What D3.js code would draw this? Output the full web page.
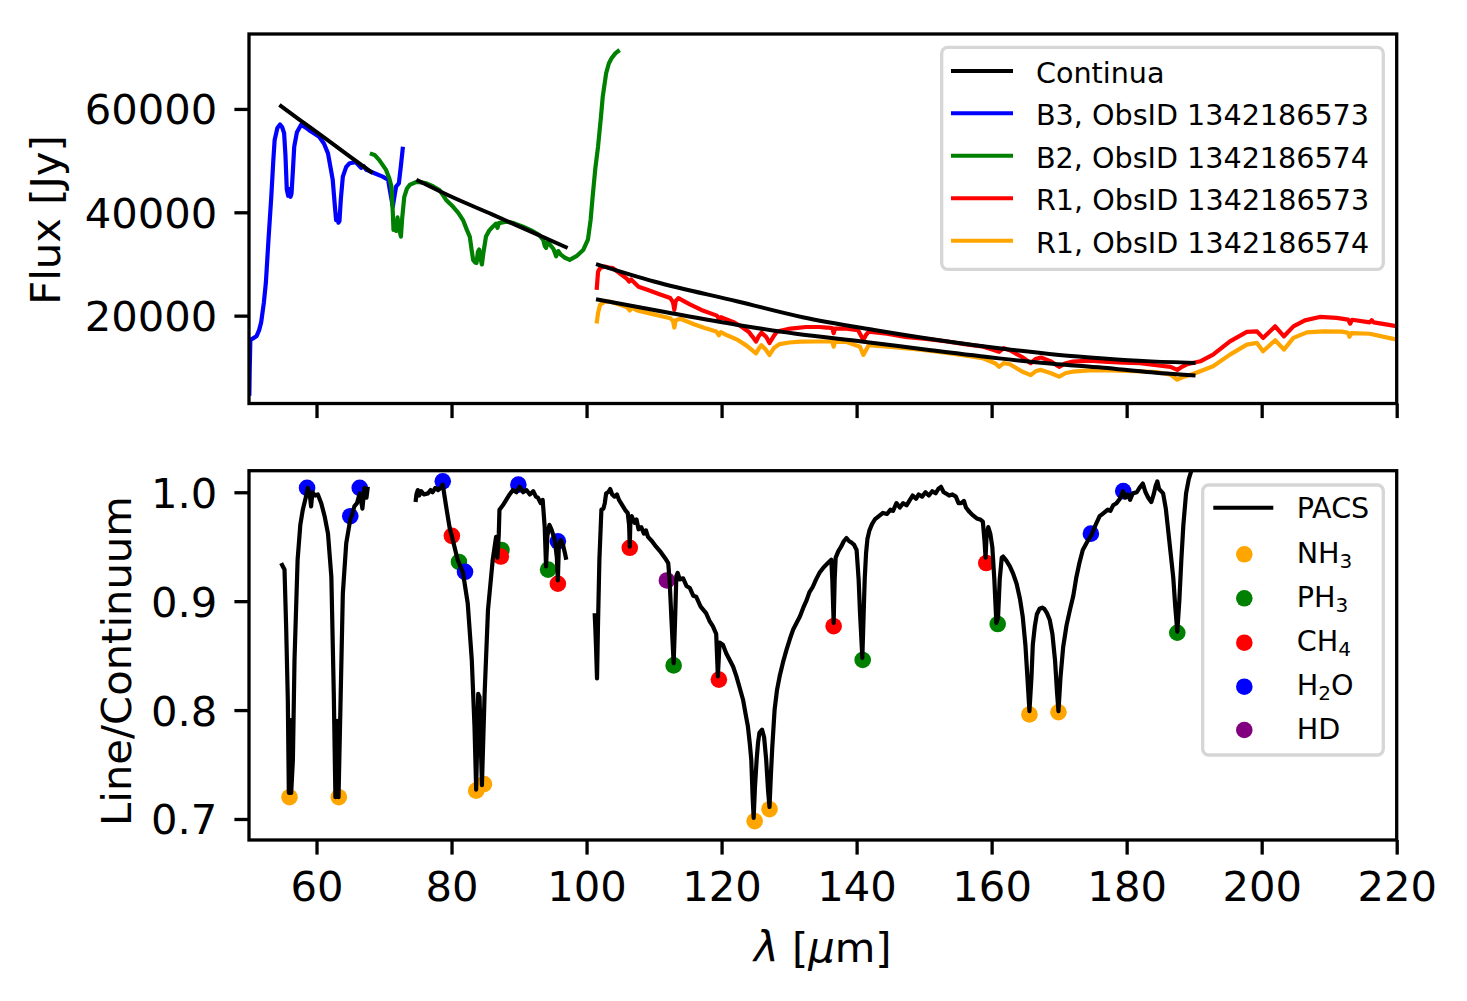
<!DOCTYPE html>
<html><head><meta charset="utf-8">
<script src="https://cdn.jsdelivr.net/npm/d3@7"></script>
<style>
body{margin:0;background:#fff}
svg{display:block}
text{font-family:"DejaVu Sans",sans-serif;fill:#000}
</style>
</head><body>
<svg id="chart" width="1467" height="1001"></svg>
<script>
// ---------------- DATA ----------------
const xTicks = [60, 80, 100, 120, 140, 160, 180, 200, 220];
const fluxTicks = [20000, 40000, 60000];
const ratioTicks = [0.7, 0.8, 0.9, 1.0];

const topLegendLabels = ["Continua", "B3, ObsID 1342186573", "B2, ObsID 1342186574", "R1, ObsID 1342186573", "R1, ObsID 1342186574"];
const topLegendColors = ["#000000", "#0000ff", "#008000", "#ff0000", "#ffa500"];

// B3 band, ObsID 1342186573  [wavelength um, flux Jy]
const b3Spec = [[50.05,4500],[50.1,9000],[50.2,15300],[50.6,15600],[51.1,16000],[51.5,17200],[51.8,18700],[52.2,22500],[52.5,26400],[52.9,35000],[53.3,43000],[53.6,50000],[53.8,54000],[54.2,56300],[54.6,57000],[54.9,56500],[55.2,55300],[55.4,51000],[55.6,44400],[55.8,43200],[56.0,44500],[56.15,43000],[56.3,43600],[56.5,48000],[56.7,52700],[57.1,55500],[57.7,56900],[58.3,56500],[58.9,55900],[59.6,55300],[60.4,54600],[61.1,53300],[61.7,51400],[62.1,48500],[62.4,46300],[62.7,41500],[62.9,38500],[63.1,39500],[63.25,38000],[63.4,38300],[63.6,42500],[63.9,46900],[64.4,48800],[64.9,49500],[65.8,49700],[66.6,48600],[67.0,48900],[67.4,48200],[68.5,47600],[69.8,46900],[70.6,46300],[70.9,44000],[71.3,41100],[71.6,43500],[71.8,45000],[72.2,45600],[72.5,49000],[72.8,52700]];

// B2 band, ObsID 1342186574
const b2Spec = [[67.9,51400],[68.6,51100],[69.3,50100],[70.3,48200],[70.8,46500],[71.1,45000],[71.3,40000],[71.4,36600],[71.6,37500],[71.8,36400],[72.0,39000],[72.2,37000],[72.5,35300],[72.7,39000],[73.0,43000],[73.4,44600],[73.8,45300],[74.8,45900],[75.5,45800],[76.3,45600],[77.3,45000],[78.2,44300],[78.8,43200],[79.2,42400],[80.2,41100],[81.0,39900],[81.7,38500],[82.3,36500],[82.7,35300],[83.0,32500],[83.2,30800],[83.5,30300],[83.7,30200],[83.9,32300],[84.1,32800],[84.3,31000],[84.5,29900],[84.7,32000],[85.1,35300],[85.6,36500],[86.1,37200],[86.6,37800],[86.8,37000],[87.0,37900],[88.1,38200],[89.2,37900],[90.6,37200],[91.8,36500],[93.0,35600],[93.6,34600],[93.8,33500],[94.0,33100],[94.2,34200],[94.6,33700],[95.1,32900],[95.5,31500],[95.8,32500],[96.2,31800],[96.8,31200],[97.5,30800],[98.5,31500],[99.5,32700],[100.2,34700],[100.6,38500],[100.9,43000],[101.3,48500],[101.7,52700],[102.1,58000],[102.4,62400],[102.9,66900],[103.3,68800],[103.7,69800],[104.3,70800],[104.9,71400]];

// R1 band, ObsID 1342186573
const r1aSpec = [[101.5,25000],[101.7,28500],[102.0,29200],[102.7,29500],[103.3,29300],[103.9,29200],[105.0,28100],[106.0,27100],[106.3,26600],[106.6,27000],[107.7,25600],[109.0,25000],[110.7,24200],[112.4,23400],[112.8,22600],[113.0,21100],[113.2,22800],[113.6,23400],[115.3,22200],[117.0,21100],[119.3,20000],[119.6,19400],[119.9,19700],[121.7,18800],[122.8,18000],[124.0,16900],[124.6,15900],[125.1,15000],[125.5,16000],[125.9,16700],[126.6,15900],[127.1,14700],[127.7,16000],[128.2,16900],[130.2,17500],[132.5,17800],[134.5,17800],[135.6,17700],[136.4,17600],[136.6,16600],[136.8,17500],[138.5,17500],[140.2,17200],[140.7,16000],[141.0,15300],[141.4,16300],[141.8,16900],[144.5,16500],[147.2,15900],[150.3,15500],[153.4,15000],[156.0,14500],[158.8,14000],[160.2,13400],[161.1,13000],[161.8,13700],[162.7,13300],[164.5,12000],[165.8,10800],[166.5,11600],[167.3,11900],[168.7,11200],[170.0,10100],[171.0,10800],[172.0,11100],[174.5,11300],[176.6,11100],[179.5,10900],[182.0,10800],[184.4,10400],[186.5,10100],[187.5,9500],[188.2,10100],[189.0,10600],[190.9,11170],[192.8,12460],[195.3,15030],[197.8,16850],[199.3,16960],[200.2,15690],[202.0,17930],[203.3,16000],[204.7,17930],[206.4,19090],[208.6,19750],[211.1,19560],[212.8,19230],[213.1,18450],[213.4,19200],[216.0,18700],[216.3,19100],[216.6,18700],[219.5,18070],[220.5,17900]];

// R1 band, ObsID 1342186574
const r1bSpec = [[101.5,18500],[101.7,20500],[102.0,22100],[102.7,22700],[103.5,22700],[104.5,22300],[106.0,21600],[106.4,21000],[106.7,21500],[107.5,21000],[109.5,20400],[112.4,19500],[112.8,19000],[113.0,17700],[113.2,19100],[113.9,19400],[116.0,18300],[117.5,17600],[119.2,16950],[119.6,16200],[119.9,16800],[120.8,16200],[122.4,15300],[123.7,14200],[125.1,12700],[125.6,13800],[125.9,14300],[126.5,13500],[127.1,12400],[127.8,13800],[128.6,14500],[130.0,14800],[131.7,14970],[134.0,15000],[136.4,15000],[136.6,14000],[136.8,14900],[138.5,14900],[140.5,14000],[141.0,12400],[141.5,13600],[141.8,14300],[145.5,13900],[149.5,13400],[153.4,12800],[156.5,12200],[158.8,11700],[160.5,10800],[161.1,10100],[161.8,10800],[162.7,10600],[164.5,9200],[165.8,8500],[166.6,9300],[167.3,9500],[168.7,8900],[170.0,8200],[171.0,8900],[172.0,9150],[174.5,9400],[176.6,9450],[180.0,9300],[184.4,9100],[186.5,8600],[187.5,7600],[188.3,8100],[189.8,8700],[190.9,9240],[192.8,10200],[195.3,12460],[197.8,14400],[199.3,14720],[200.2,13100],[202.0,15230],[203.3,13430],[204.7,15690],[206.7,16770],[209.1,16960],[211.9,16900],[212.8,16660],[213.0,15900],[213.3,16600],[216.0,16500],[219.5,15500],[220.5,15300]];

// Continuum fits
const contB3 = [[54.5,60800],[57.5,57900],[61.0,54600],[64.5,51200],[68.3,47600]];
const contB2 = [[74.8,46300],[80.0,43000],[86.0,39600],[92.0,36100],[97.2,33100]];
const contR1a = [[101.4,29970],[110.0,26600],[122.4,22740],[132.0,19700],[142.6,17240],[152.0,15300],[161.1,13680],[170.0,12400],[176.6,11730],[183.0,11200],[190.2,10850]];
const contR1b = [[101.4,23170],[112.0,20600],[122.4,18200],[131.0,16500],[141.0,14970],[151.0,13300],[161.1,11730],[169.0,10700],[176.6,9930],[183.0,9100],[190.2,8400]];

// Line / continuum (PACS), three segments
const pacsSeg1 = [[54.77,0.935],[55.0,0.932],[55.26,0.929],[55.5,0.877],[55.75,0.809],[55.9,0.724],[56.07,0.791],[56.25,0.724],[56.5,0.754],[56.74,0.846],[57.2,0.938],[57.6,0.970],[57.97,0.984],[58.4,0.995],[58.7,1.004],[59.0,0.998],[59.2,0.987],[59.4,1.0],[59.8,0.997],[60.2,0.998],[60.7,0.99],[61.2,0.978],[61.7,0.962],[62.2,0.922],[62.56,0.815],[62.8,0.720],[63.05,0.790],[63.26,0.720],[63.5,0.790],[63.9,0.907],[64.4,0.953],[65.0,0.975],[65.3,0.98],[65.6,0.987],[66.0,0.99],[66.4,0.999],[66.8,0.985],[67.1,1.004],[67.4,0.995],[67.6,1.005]];
const pacsSeg2 = [[74.67,0.991],[74.8,0.998],[75.0,1.002],[75.2,0.997],[75.5,1.001],[75.9,0.998],[76.5,0.999],[76.9,1.002],[77.2,1.0],[77.6,1.004],[78.0,1.002],[78.4,1.004],[78.7,1.007],[79.2,0.987],[79.7,0.968],[80.2,0.956],[80.9,0.938],[81.7,0.926],[82.4,0.898],[83.0,0.846],[83.4,0.785],[83.65,0.727],[83.95,0.815],[84.15,0.812],[84.5,0.731],[84.9,0.815],[85.4,0.892],[86.1,0.938],[86.6,0.959],[86.8,0.94],[87.0,0.962],[87.1,0.984],[87.6,0.988],[88.1,0.993],[88.6,0.998],[89.1,1.002],[89.6,1.0],[90.1,1.005],[90.6,1.0],[91.1,1.002],[91.6,0.998],[92.1,1.001],[92.5,0.996],[92.8,0.995],[93.2,0.99],[93.5,0.993],[93.8,0.968],[94.0,0.932],[94.2,0.96],[94.5,0.97],[94.8,0.966],[95.3,0.956],[95.6,0.94],[95.75,0.919],[95.9,0.952],[96.2,0.956],[96.5,0.952],[96.8,0.944],[97.0,0.938]];
const pacsSeg3 = [[101.2,0.889],[101.3,0.875],[101.4,0.858],[101.55,0.829],[101.7,0.880],[101.9,0.938],[102.2,0.984],[102.5,0.985],[102.7,0.990],[102.9,0.999],[103.2,1.0],[103.5,1.003],[103.8,0.998],[104.15,0.996],[104.5,0.998],[104.8,0.993],[105.1,0.99],[105.4,0.987],[105.8,0.983],[106.1,0.981],[106.3,0.97],[106.4,0.95],[106.5,0.975],[106.7,0.978],[107.1,0.972],[107.4,0.975],[107.7,0.966],[108.1,0.968],[108.5,0.962],[108.8,0.965],[109.1,0.959],[109.7,0.955],[110.3,0.950],[111.0,0.945],[111.8,0.938],[112.1,0.935],[112.3,0.919],[112.6,0.88],[112.9,0.843],[113.1,0.88],[113.3,0.923],[113.5,0.926],[113.8,0.92],[114.3,0.921],[114.8,0.914],[115.3,0.912],[115.8,0.905],[116.25,0.904],[116.9,0.895],[117.7,0.889],[118.2,0.882],[118.7,0.877],[119.2,0.870],[119.45,0.831],[119.7,0.862],[120.2,0.860],[120.7,0.852],[121.2,0.846],[121.7,0.84],[122.2,0.831],[122.7,0.82],[123.2,0.809],[123.6,0.795],[123.9,0.785],[124.2,0.768],[124.4,0.754],[124.6,0.72],[124.75,0.701],[124.95,0.73],[125.2,0.755],[125.4,0.770],[125.6,0.779],[126.0,0.782],[126.3,0.775],[126.6,0.755],[126.9,0.725],[127.1,0.711],[127.3,0.74],[127.5,0.765],[127.85,0.800],[128.2,0.818],[128.6,0.831],[129.1,0.844],[129.6,0.855],[130.1,0.865],[130.6,0.874],[131.1,0.880],[131.6,0.886],[132.1,0.894],[132.6,0.901],[133.0,0.908],[133.5,0.913],[134.0,0.920],[134.5,0.926],[135.1,0.931],[135.75,0.935],[136.25,0.938],[136.4,0.92],[136.6,0.880],[136.75,0.92],[136.9,0.940],[137.3,0.946],[137.7,0.950],[138.1,0.955],[138.5,0.958],[138.9,0.955],[139.2,0.954],[139.6,0.952],[140.0,0.947],[140.3,0.92],[140.5,0.89],[140.85,0.848],[141.05,0.89],[141.2,0.92],[141.4,0.944],[141.6,0.957],[141.9,0.965],[142.3,0.971],[142.7,0.975],[143.3,0.978],[143.9,0.981],[144.5,0.980],[145.0,0.984],[145.4,0.983],[145.9,0.990],[146.4,0.986],[146.9,0.99],[147.4,0.988],[147.9,0.993],[148.3,0.997],[148.8,0.994],[149.2,0.998],[149.7,0.996],[150.2,1.0],[150.7,0.997],[151.2,1.001],[151.7,0.999],[152.1,1.003],[152.5,1.005],[152.9,1.0],[153.2,0.999],[153.7,0.997],[154.2,0.998],[154.7,0.996],[155.1,0.99],[155.5,0.990],[155.9,0.992],[156.2,0.986],[156.7,0.982],[157.2,0.979],[157.8,0.976],[158.3,0.975],[158.7,0.973],[158.95,0.955],[159.1,0.94],[159.25,0.96],[159.5,0.968],[159.8,0.962],[160.1,0.95],[160.4,0.92],[160.7,0.880],[160.95,0.885],[161.2,0.92],[161.5,0.94],[161.7,0.941],[162.2,0.937],[162.7,0.932],[163.2,0.925],[163.7,0.916],[164.2,0.902],[164.6,0.886],[165.0,0.86],[165.3,0.83],[165.6,0.799],[165.9,0.83],[166.1,0.86],[166.4,0.877],[166.7,0.888],[167.1,0.893],[167.5,0.894],[167.8,0.893],[168.2,0.889],[168.6,0.883],[169.0,0.87],[169.4,0.845],[169.7,0.815],[169.9,0.799],[170.2,0.83],[170.6,0.858],[171.1,0.878],[171.6,0.892],[172.1,0.905],[172.55,0.922],[173.0,0.935],[173.5,0.947],[174.2,0.955],[174.8,0.961],[175.4,0.970],[176.0,0.978],[176.4,0.980],[176.8,0.982],[177.2,0.984],[177.6,0.983],[178.0,0.988],[178.5,0.990],[179.0,0.994],[179.45,1.001],[179.8,0.995],[180.2,0.998],[180.5,0.993],[180.9,0.999],[181.5,1.0],[181.9,1.004],[182.4,1.008],[182.8,1.0],[183.2,0.995],[183.65,0.991],[184.0,0.998],[184.3,1.006],[184.55,1.010],[184.8,1.003],[185.1,1.001],[185.4,0.999],[185.8,0.985],[186.1,0.968],[186.5,0.945],[186.9,0.922],[187.2,0.895],[187.5,0.872],[187.8,0.90],[188.1,0.938],[188.4,0.97],[188.8,0.999],[189.2,1.012],[189.6,1.020],[190.2,1.04],[190.6,1.06]];

// Line identifications [wavelength um, line/continuum]
const nh3Lines = [[56.0,0.720],[63.3,0.720],[83.65,0.726],[84.8,0.732],[124.9,0.698],[127.1,0.709],[165.6,0.796],[169.9,0.798]];
const ph3Lines = [[81.1,0.936],[87.4,0.947],[94.3,0.929],[112.9,0.841],[140.9,0.846],[160.9,0.879],[187.5,0.871]];
const ch4Lines = [[80.05,0.960],[87.3,0.941],[95.75,0.916],[106.4,0.949],[119.6,0.828],[136.6,0.877],[159.2,0.935]];
const h2oLines = [[58.6,1.004],[65.0,0.978],[66.4,1.004],[78.7,1.010],[82.0,0.927],[89.9,1.007],[95.75,0.955],[174.7,0.962],[179.5,1.001]];
const hdLines = [[111.9,0.919]];

const speciesNames = [["NH","3"],["PH","3"],["CH","4"],["H","2","O"],["HD"]];
const speciesColors = ["#ffa500", "#008000", "#ff0000", "#0000ff", "#800080"];

// ---------------- DRAWING ----------------
const svg = d3.select("#chart");
const L = 249, R = 1396.7;
const top1 = 34, bot1 = 403.5, top2 = 470.7, bot2 = 840;
const FS = 41.7, LFS = 28.6;

const x = d3.scaleLinear().domain([50, 220]).range([L, R]);
const yF = d3.scaleLinear().domain([3000, 74500]).range([bot1, top1]);
const yR = d3.scaleLinear().domain([0.6807, 1.0198]).range([bot2, top2]);

const defs = svg.append("defs");
defs.append("clipPath").attr("id", "clipTop").append("rect")
  .attr("x", L).attr("y", top1).attr("width", R - L).attr("height", bot1 - top1);
defs.append("clipPath").attr("id", "clipBot").append("rect")
  .attr("x", L).attr("y", top2).attr("width", R - L).attr("height", bot2 - top2);

// ---- top panel ----
const gTop = svg.append("g").attr("clip-path", "url(#clipTop)");
const lineF = d3.line().x(d => x(d[0])).y(d => yF(d[1]));
const lineFs = d3.line().x(d => x(d[0])).y(d => yF(d[1])).curve(d3.curveMonotoneX);
[[b3Spec, "#0000ff"], [b2Spec, "#008000"], [r1aSpec, "#ff0000"], [r1bSpec, "#ffa500"]].forEach(([d, c]) => {
  gTop.append("path").attr("d", lineF(d)).attr("fill", "none").attr("stroke", c)
    .attr("stroke-width", 4.2).attr("stroke-linejoin", "round").attr("stroke-linecap", "butt");
});
[contB3, contB2, contR1a, contR1b].forEach(d => {
  gTop.append("path").attr("d", lineFs(d)).attr("fill", "none").attr("stroke", "#000")
    .attr("stroke-width", 4).attr("stroke-linecap", "butt");
});

// ---- bottom panel ----
const gBot = svg.append("g").attr("clip-path", "url(#clipBot)");
const lineR = d3.line().x(d => x(d[0])).y(d => yR(d[1]));
[nh3Lines, ph3Lines, ch4Lines, h2oLines, hdLines].forEach((arr, i) => {
  gBot.selectAll(null).data(arr).enter().append("circle")
    .attr("cx", d => x(d[0])).attr("cy", d => yR(d[1])).attr("r", 8.3)
    .attr("fill", speciesColors[i]);
});
[pacsSeg1, pacsSeg2, pacsSeg3].forEach(d => {
  gBot.append("path").attr("d", lineR(d)).attr("fill", "none").attr("stroke", "#000")
    .attr("stroke-width", 4.2).attr("stroke-linejoin", "round");
});

// ---- axes ----
function styleAxis(g) {
  g.select(".domain").remove();
  g.selectAll(".tick line").attr("stroke", "#000").attr("stroke-width", 3.3);
  g.selectAll(".tick text").attr("font-size", FS).attr("font-family", '"DejaVu Sans",sans-serif').attr("fill", "#000");
}
svg.append("g").attr("transform", `translate(0,${bot1})`)
  .call(d3.axisBottom(x).tickValues(xTicks).tickSize(14.6).tickFormat(""))
  .call(styleAxis);
svg.append("g").attr("transform", `translate(0,${bot2})`)
  .call(d3.axisBottom(x).tickValues(xTicks).tickSize(14.6).tickPadding(17).tickFormat(d3.format("d")))
  .call(styleAxis);
const ayF = svg.append("g").attr("transform", `translate(${L},0)`)
  .call(d3.axisLeft(yF).tickValues(fluxTicks).tickSize(14.6).tickPadding(17).tickFormat(d3.format("d")))
  .call(styleAxis);
ayF.selectAll(".tick text").attr("dy", "0.36em");
const ayR = svg.append("g").attr("transform", `translate(${L},0)`)
  .call(d3.axisLeft(yR).tickValues(ratioTicks).tickSize(14.6).tickPadding(17).tickFormat(d3.format(".1f")))
  .call(styleAxis);
ayR.selectAll(".tick text").attr("dy", "0.36em");

// frames
[[top1, bot1], [top2, bot2]].forEach(([t, b]) => {
  svg.append("rect").attr("x", L).attr("y", t).attr("width", R - L).attr("height", b - t)
    .attr("fill", "none").attr("stroke", "#000").attr("stroke-width", 3.3);
});

// axis labels
svg.append("text").attr("transform", `translate(60,220) rotate(-90)`)
  .attr("text-anchor", "middle").attr("font-size", FS).text("Flux [Jy]");
svg.append("text").attr("transform", `translate(131,661) rotate(-90)`)
  .attr("text-anchor", "middle").attr("font-size", FS).text("Line/Continuum");
const xl = svg.append("text").attr("x", (L + R) / 2).attr("y", 961.5)
  .attr("text-anchor", "middle").attr("font-size", FS);
xl.append("tspan").attr("font-style", "italic").text("λ");
xl.append("tspan").text(" [");
xl.append("tspan").attr("font-style", "italic").text("μ");
xl.append("tspan").text("m]");

// ---- top legend ----
const lg1 = svg.append("g");
lg1.append("rect").attr("x", 941.7).attr("y", 47.3).attr("width", 441.6).attr("height", 222)
  .attr("rx", 6).attr("fill", "#fff").attr("fill-opacity", 0.8)
  .attr("stroke", "#d6d6d6").attr("stroke-width", 3.3);
const lg1Y = [71, 113.3, 155.7, 198.3, 240.7];
topLegendLabels.forEach((lab, i) => {
  lg1.append("line").attr("x1", 951).attr("x2", 1013).attr("y1", lg1Y[i]).attr("y2", lg1Y[i])
    .attr("stroke", topLegendColors[i]).attr("stroke-width", 4);
  lg1.append("text").attr("x", 1036).attr("y", lg1Y[i] + 12).attr("font-size", LFS).text(lab);
});

// ---- bottom legend ----
const lg2 = svg.append("g");
lg2.append("rect").attr("x", 1202.7).attr("y", 485).attr("width", 180.6).attr("height", 270)
  .attr("rx", 6).attr("fill", "#fff").attr("fill-opacity", 0.8)
  .attr("stroke", "#d6d6d6").attr("stroke-width", 3.3);
lg2.append("line").attr("x1", 1213.3).attr("x2", 1273.3).attr("y1", 507.7).attr("y2", 507.7)
  .attr("stroke", "#000").attr("stroke-width", 4);
lg2.append("text").attr("x", 1296.7).attr("y", 518.3).attr("font-size", LFS).text("PACS");
const lg2Y = [554.3, 598.3, 642.7, 686.7, 730];
speciesNames.forEach((parts, i) => {
  lg2.append("circle").attr("cx", 1244.3).attr("cy", lg2Y[i]).attr("r", 8.3).attr("fill", speciesColors[i]);
  const t = lg2.append("text").attr("x", 1296.7).attr("y", lg2Y[i] + 8.7).attr("font-size", LFS);
  t.append("tspan").text(parts[0]);
  if (parts.length > 1) {
    t.append("tspan").attr("font-size", 20).attr("dy", 4.5).text(parts[1]);
    if (parts.length > 2) t.append("tspan").attr("dy", -4.5).text(parts[2]);
  }
});
</script>
</body></html>
